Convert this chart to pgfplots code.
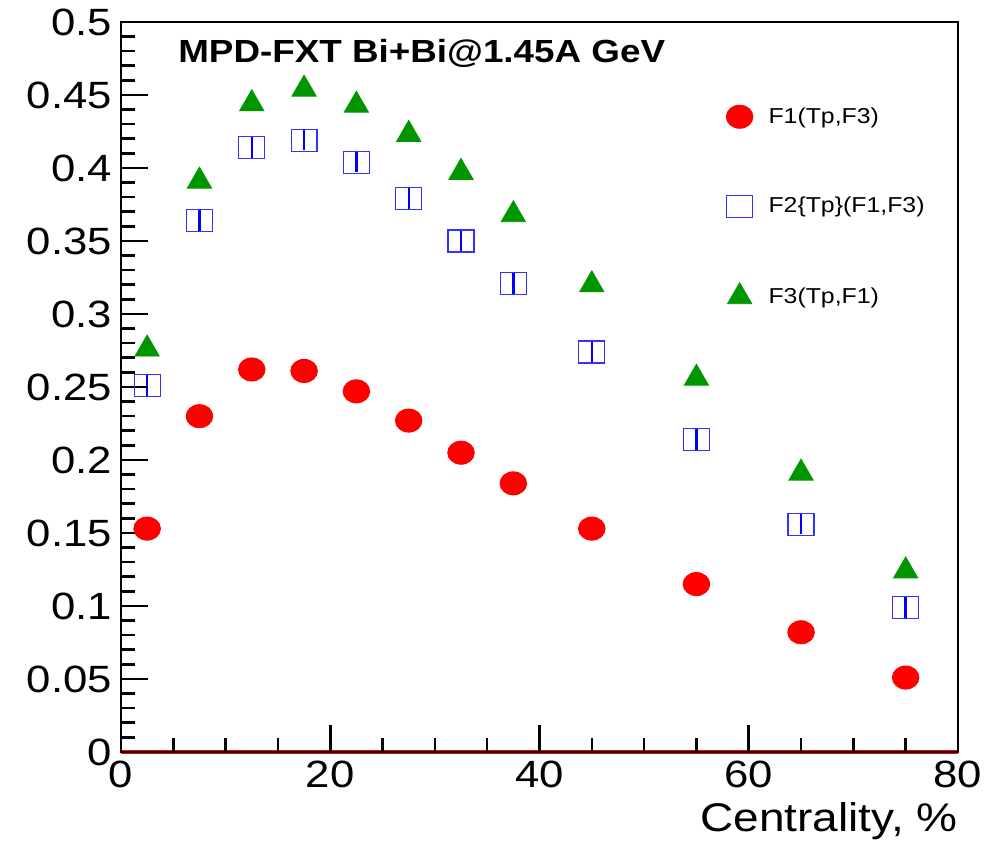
\documentclass[border=0pt]{standalone}
\usepackage{pgfplots}
\pgfplotsset{compat=1.18}
\usepackage{fontspec}
\setmainfont[FakeStretch=1.15]{Liberation Sans}
\definecolor{rootgreen}{RGB}{0,150,0}
\definecolor{rootblue}{RGB}{0,0,255}
\begin{document}
\begin{tikzpicture}
\path[use as bounding box] (-60.5pt,-47pt) rectangle (441pt,376pt);
\begin{axis}[
  at={(0,0)}, anchor=south west,
  scale only axis, width=418.5pt, height=365pt,
  xmin=0, xmax=80, ymin=0, ymax=0.5,
  xtick={0,20,40,60,80}, minor x tick num=3,
  ytick={0,0.05,0.1,0.15,0.2,0.25,0.3,0.35,0.4,0.45,0.5}, minor y tick num=4,
  yticklabels={0,0.05,0.1,0.15,0.2,0.25,0.3,0.35,0.4,0.45,0.5},
  tick pos=left, tick align=inside,
  major tick length=13.5pt, minor tick length=7pt,
  every tick/.style={black, line width=1.3pt},
  axis line style={line width=1.3pt},
  axis on top,
  /pgf/number format/assume math mode=true,
  ticklabel style={font=\fontsize{19}{22}\selectfont},
  yticklabel style={xshift=-1pt},
  xticklabel style={yshift=-1pt},
  xlabel={Centrality, \%},
  xlabel style={at={(rel axis cs:1,0)}, anchor=north east, inner sep=0pt, yshift=-25pt, font=\fontsize{20}{23}\selectfont},
  legend style={draw=none, fill=none, at={(rel axis cs:0.711,0.889)}, anchor=north west,
    font=\fontsize{10.8}{12}\selectfont, row sep=31.5pt, inner sep=0pt, cells={anchor=west}},
  legend image code/.code={\path (0cm,0cm) (0.83cm,0cm); \draw[mark repeat=2,mark phase=2,#1] plot coordinates {(0cm,0cm) (0.4cm,0cm) (0.8cm,0cm)};},
  clip=false,
]
\addplot[red, line width=2pt, forget plot] coordinates {(0,0) (80,0)};
\addplot[only marks, mark=*, color=red, mark size=5.8pt, mark options={xscale=1.15}] coordinates {
(2.5,0.153) (7.5,0.230) (12.5,0.262) (17.5,0.261) (22.5,0.247) (27.5,0.227)
(32.5,0.205) (37.5,0.184) (45,0.153) (55,0.115) (65,0.082) (75,0.051)};
\addlegendentry{F1(Tp,F3)}
\addplot[only marks, mark=square, color=rootblue, mark size=5.5pt, mark options={xscale=1.18, line width=0.6pt, draw=rootblue!80},
  error bars/.cd, y dir=both, y explicit, error mark=none, error bar style={rootblue, line width=1.2pt}] coordinates {
(2.5,0.251) +- (0,0.007) (7.5,0.364) +- (0,0.007) (12.5,0.414) +- (0,0.007) (17.5,0.419) +- (0,0.007)
(22.5,0.404) +- (0,0.007) (27.5,0.379) +- (0,0.007) (32.5,0.350) +- (0,0.007) (37.5,0.321) +- (0,0.007)
(45,0.274) +- (0,0.007) (55,0.214) +- (0,0.007) (65,0.156) +- (0,0.007) (75,0.099) +- (0,0.007)};
\addlegendentry{F2\{Tp\}(F1,F3)}
\addplot[only marks, mark=triangle*, color=rootgreen, mark size=7pt] coordinates {
(2.5,0.276) (7.5,0.391) (12.5,0.444) (17.5,0.454) (22.5,0.443) (27.5,0.423)
(32.5,0.397) (37.5,0.368) (45,0.320) (55,0.256) (65,0.191) (75,0.124)};
\addlegendentry{F3(Tp,F1)}
\node[anchor=base west, inner sep=0pt, font=\fontsize{16}{19}\selectfont\bfseries] at (rel axis cs:0.068,0.944) {MPD-FXT Bi+Bi@1.45A GeV};
\end{axis}
\end{tikzpicture}
\end{document}
